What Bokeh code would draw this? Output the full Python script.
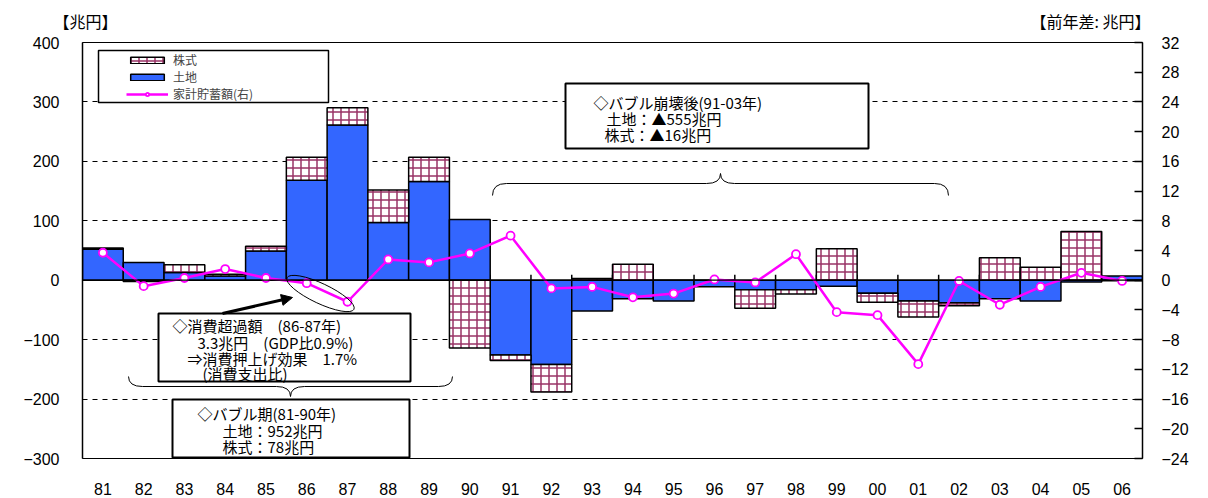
from bokeh.plotting import figure
from bokeh.layouts import column
from bokeh.models import (FactorRange, Range1d, LinearAxis, FixedTicker, Legend, LegendItem,
                          Label, Arrow, NormalHead, Span, ColumnDataSource)
from bokeh.core.properties import value
from bokeh.embed import file_html
from bokeh.resources import INLINE

# ---- data ----
years = ["81", "82", "83", "84", "85", "86", "87", "88", "89", "90", "91", "92", "93",
         "94", "95", "96", "97", "98", "99", "00", "01", "02", "03", "04", "05", "06"]
land = [52, 30, 13, 7, 49, 168, 261, 97, 166, 102, -126, -142, -52,
        -31, -35, -11, -16, -16, -10, -22, -35, -38, -31, -35, -3, 7]
stock = [2, -2, 13, 3, 8, 39, 29, 55, 41, -114, -9, -46, 3,
         27, 0, 0, -31, -7, 53, -15, -27, -5, 38, 22, 82, -1]
savings = [3.7, -0.8, 0.3, 1.5, 0.3, -0.4, -2.9, 2.8, 2.4, 3.6, 6.0, -1.1, -0.9,
           -2.3, -1.8, 0.1, -0.3, 3.5, -4.3, -4.7, -11.3, -0.1, -3.3, -0.9, 1.0, -0.1]
left_ticks = [-300, -200, -100, 0, 100, 200, 300, 400]
right_ticks = [-24, -20, -16, -12, -8, -4, 0, 4, 8, 12, 16, 20, 24, 28, 32]
grid_ticks = [-200, -100, 100, 200, 300]
unit_left = "【兆円】"
unit_right = "【前年差: 兆円】"

JP = "Noto Sans CJK JP"
NUM = "Liberation Sans"

# Excel-style stacking: same-sign values stack, opposite signs start from zero
stock_base = [l if l * s > 0 else 0 for l, s in zip(land, stock)]
stock_top = [b + s for b, s in zip(stock_base, stock)]
src = ColumnDataSource(dict(year=years, land=land, sb=stock_base, st=stock_top, sav=savings))

HEAD = 35

# ---- header strip with unit labels ----
h = figure(width=1208, height=HEAD, x_range=Range1d(0, 1208), y_range=Range1d(HEAD, 0),
           output_backend="svg", toolbar_location=None, x_axis_type=None, y_axis_type=None,
           min_border=0, frame_align=False)
h.outline_line_color = None
h.xgrid.grid_line_color = None
h.ygrid.grid_line_color = None
h.text(x=[53], y=[20], text=[unit_left], text_font=value(JP), text_font_size="16px",
       text_baseline="middle", text_align="left", text_color="black")
h.text(x=[1150], y=[20], text=[unit_right], text_font=value(JP), text_font_size="16px",
       text_baseline="middle", text_align="right", text_color="black")

# ---- main chart ----
p = figure(width=1208, height=498 - HEAD,
           x_range=FactorRange(factors=years, range_padding=0),
           y_range=Range1d(-300, 400),
           output_backend="svg", toolbar_location=None,
           min_border_left=82, min_border_right=66, min_border_top=42 - HEAD,
           min_border_bottom=40, frame_align=False)
p.extra_y_ranges = {"r": Range1d(-24, 32)}
p.background_fill_color = "white"
p.border_fill_color = "white"
p.outline_line_color = "black"
p.outline_line_width = 1

p.yaxis.ticker = FixedTicker(ticks=left_ticks)
p.yaxis.axis_line_color = "black"
p.yaxis.axis_line_width = 1.5
p.yaxis.major_tick_in = 0
p.yaxis.major_tick_out = 0
p.yaxis.minor_tick_line_color = None
p.yaxis.major_label_standoff = 23
p.yaxis.major_label_text_font = NUM
p.yaxis.major_label_text_font_size = "16px"
p.yaxis.major_label_text_color = "black"

p.xaxis.axis_line_color = None
p.xaxis.major_tick_line_color = None
p.xaxis.major_label_standoff = 18
p.xaxis.major_label_text_font = NUM
p.xaxis.major_label_text_font_size = "16px"
p.xaxis.major_label_text_color = "black"

rax = LinearAxis(y_range_name="r", ticker=FixedTicker(ticks=right_ticks))
rax.axis_line_color = "black"
rax.axis_line_width = 1.5
rax.major_tick_in = 8
rax.major_tick_out = 0
rax.major_tick_line_width = 1.5
rax.minor_tick_line_color = None
rax.major_label_standoff = 19
rax.major_label_text_font = NUM
rax.major_label_text_font_size = "16px"
rax.major_label_text_color = "black"
p.add_layout(rax, "right")

p.xgrid.grid_line_color = None
p.ygrid.ticker = FixedTicker(ticks=grid_ticks)
p.ygrid.grid_line_color = "black"
p.ygrid.grid_line_dash = "5 5"
p.ygrid.grid_line_width = 1

# category boundary tick marks on the zero axis
bounds = list(range(1, len(years)))
p.segment(x0=bounds, y0=[0] * len(bounds), x1=bounds, y1=[9] * len(bounds),
          line_color="black", line_width=1.5)

land_r = p.vbar(x="year", top="land", bottom=0, width=1, source=src,
                fill_color="#3366FF", line_color="black", line_width=1.5)
stock_r = p.vbar(x="year", top="st", bottom="sb", width=1, source=src,
                 fill_color="white", hatch_pattern="+", hatch_color="#993366",
                 hatch_scale=8, hatch_weight=1.5, line_color="black", line_width=1.5)

p.add_layout(Span(location=0, dimension="width", line_color="black", line_width=1.2))

line_r = p.line(x="year", y="sav", source=src, y_range_name="r",
                line_color="#FF00FF", line_width=2.5)
sc_r = p.scatter(x="year", y="sav", source=src, y_range_name="r", marker="circle",
                 size=8, fill_color="white", line_color="#FF00FF", line_width=1.8)

# ---- annotation helpers (page pixel position -> data coordinates) ----
FL, FW, FB, FH = 82, 1060, 458, 416
def dx(px):
    return (px - FL) / FW * len(years)
def dy(py):
    return -300 + (FB - py) / FH * 700

def box(x0, y0, x1, y1, lw=2):
    p.quad(left=[dx(x0)], right=[dx(x1)], top=[dy(y0)], bottom=[dy(y1)],
           fill_color="white", line_color="black", line_width=lw)

def text(px, py, t, size="15px", align="left"):
    p.add_layout(Label(x=dx(px), y=dy(py), text=t, text_font=JP, text_font_size=size,
                       text_baseline="middle", text_align=align, text_color="black"))

def brace(x0, x1, xm, yend, ymid, ytip, r=14):
    X0, X1, XM = dx(x0), dx(x1), dx(xm)
    R = r / FW * len(years)
    YE, YM, YT = dy(yend), dy(ymid), dy(ytip)
    p.quadratic(x0=[X0, XM - R, X1, XM + R], y0=[YE, YM, YE, YM],
                x1=[X0 + R, XM, X1 - R, XM], y1=[YM, YT, YM, YT],
                cx=[X0, XM, X1, XM], cy=[YM, YM, YM, YM],
                line_color="black", line_width=1)
    p.segment(x0=[X0 + R, XM + R], y0=[YM, YM], x1=[XM - R, X1 - R], y1=[YM, YM],
              line_color="black", line_width=1)

# legend box + legend
box(98, 50, 328, 102, lw=1.5)
legend = Legend(items=[LegendItem(label="株式", renderers=[stock_r]),
                       LegendItem(label="土地", renderers=[land_r]),
                       LegendItem(label="家計貯蓄額(右)", renderers=[line_r, sc_r])],
                location=(44, 356), padding=0, margin=0, spacing=0,
                glyph_width=42, glyph_height=8, label_height=17, label_standoff=5,
                label_text_font=JP, label_text_font_size="12px",
                background_fill_alpha=0, border_line_color=None)
p.add_layout(legend)

# braces
brace(492, 948, 720, 195, 183, 173)
brace(128, 452, 290, 376, 386, 396)

# ellipse + arrow for 86-87
p.ellipse(x=[dx(320)], y=[dy(293)], width=74, height=20, width_units="screen",
          height_units="screen", angle=-0.44, fill_color=None, line_color="black",
          line_width=1)
p.add_layout(Arrow(end=NormalHead(size=11, fill_color="black", line_color="black"),
                   x_start=dx(222), y_start=dy(313), x_end=dx(292), y_end=dy(297),
                   line_color="black", line_width=3))

# text boxes
box(565, 83, 868, 148)
text(593, 102, "◇バブル崩壊後(91-03年)")
text(606, 118, "土地：▲555兆円")
text(604, 134, "株式：▲16兆円")

box(158, 313, 410, 381)
text(172, 325, "◇消費超過額　(86-87年)")
text(197, 342, "3.3兆円　(GDP比0.9%)")
text(187, 358, "⇒消費押上げ効果　1.7%")
text(202, 373, "(消費支出比)")

box(172, 399, 409, 457)
text(197, 413, "◇バブル期(81-90年)")
text(222, 430, "土地：952兆円")
text(222, 446, "株式：78兆円")

open("out.html", "w").write(file_html(column(h, p, spacing=0), INLINE))
